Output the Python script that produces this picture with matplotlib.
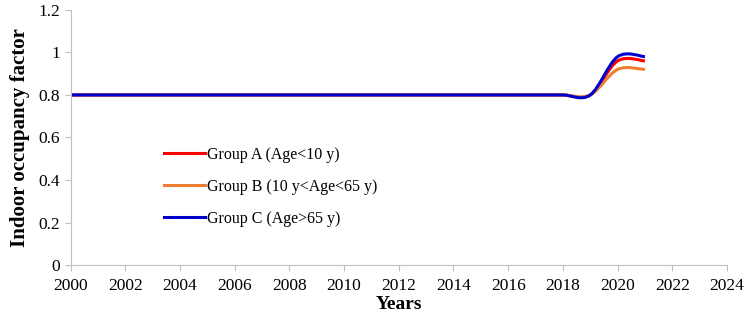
import matplotlib.pyplot as plt
import numpy as np
from matplotlib.path import Path
from matplotlib.patches import PathPatch
from matplotlib.lines import Line2D

plt.rcParams['font.family'] = ['Liberation Serif', 'DejaVu Serif']

# data (annual values, drawn as Excel-style smoothed lines)
years = list(range(2000, 2022))
group_a = [0.8] * 20 + [0.96, 0.96]
group_b = [0.8] * 20 + [0.92, 0.92]
group_c = [0.8] * 20 + [0.98, 0.98]
labels = ['Group A (Age<10 y)', 'Group B (10 y<Age<65 y)', 'Group C (Age>65 y)']
colors = ['#ff0000', '#ed7d31', '#0000cc']


def smooth_path(x, y):
    # cubic bezier through the points, Catmull-Rom style tangents
    x = np.asarray(x, float)
    y = np.asarray(y, float)
    px = np.concatenate([[x[0]], x, [x[-1]]])
    py = np.concatenate([[y[0]], y, [y[-1]]])
    verts = [(x[0], y[0])]
    codes = [Path.MOVETO]
    for i in range(1, len(px) - 2):
        c1 = (px[i] + (px[i + 1] - px[i - 1]) / 6, py[i] + (py[i + 1] - py[i - 1]) / 6)
        c2 = (px[i + 1] - (px[i + 2] - px[i]) / 6, py[i + 1] - (py[i + 2] - py[i]) / 6)
        verts += [c1, c2, (px[i + 1], py[i + 1])]
        codes += [Path.CURVE4] * 3
    return Path(verts, codes)


fig = plt.figure(figsize=(7.51, 3.19), dpi=100)
ax = fig.add_axes([0.094, 0.169, 0.874, 0.80])

handles = []
for ys, lab, col in zip([group_a, group_b, group_c], labels, colors):
    ax.add_patch(PathPatch(smooth_path(years, ys), fill=False, edgecolor=col,
                           lw=2.2, capstyle='butt'))
    handles.append(Line2D([], [], color=col, lw=2.2, label=lab))

ax.set_xlim(2000, 2024)
ax.set_ylim(0, 1.2)
ax.set_xticks(range(2000, 2025, 2))
ax.set_yticks([0, 0.2, 0.4, 0.6, 0.8, 1.0, 1.2])
ax.set_yticklabels(['0', '0.2', '0.4', '0.6', '0.8', '1', '1.2'])

for s in ['top', 'right']:
    ax.spines[s].set_visible(False)
for s in ['left', 'bottom']:
    ax.spines[s].set_color('#bfbfbf')
ax.tick_params(colors='#bfbfbf', labelcolor='black', labelsize=12.5, length=4)
ax.tick_params(axis='x', pad=5)

ax.set_xlabel('Years', fontsize=14, fontweight='bold', labelpad=2)
ax.set_ylabel('Indoor occupancy factor', fontsize=15, fontweight='bold', labelpad=6)

ax.legend(handles=handles, loc='upper left', bbox_to_anchor=(0.12, 0.52),
          frameon=False, fontsize=11.5, handlelength=2.6, handletextpad=0.1,
          labelspacing=1.0)

fig.savefig('out.png', dpi=100)
